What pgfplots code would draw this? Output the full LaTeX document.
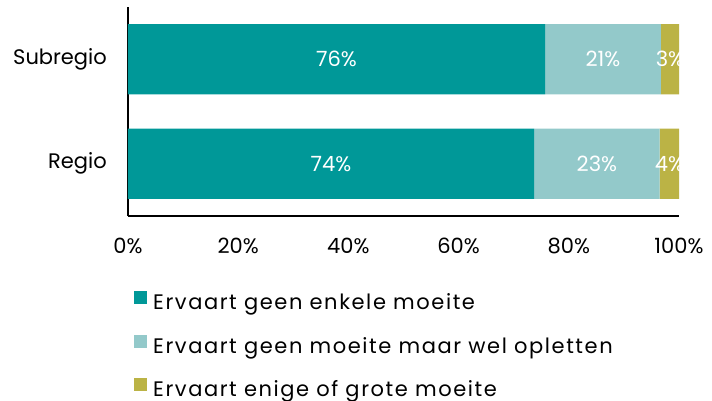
\documentclass[border=0pt]{standalone}
\usepackage{pgfplots}
\pgfplotsset{compat=1.18}
\usepackage{pgfplotstable}
\usepackage{fontspec}
\setmainfont{Poppins}
\newfontfamily\legfont[LetterSpace=7.5]{Poppins}
\definecolor{c1}{HTML}{009898}
\definecolor{c2}{HTML}{93C9CA}
\definecolor{c3}{HTML}{BBB345}
\newcommand\fs{\fontsize{21bp}{25bp}\selectfont}
\pgfplotstableread{
y  a     b     c
0  73.7  22.8  3.5
1  75.7  21.0  3.3
}\bars
\pgfplotstableread{
x      y  lab
36.85  0  74\%
85.1   0  23\%
98.25  0  4\%
37.85  1  76\%
86.2   1  21\%
98.35  1  3\%
}\labs
\begin{document}
\begin{tikzpicture}
\path[use as bounding box] (0,0) rectangle (712bp,401bp);
\begin{axis}[
  name=main,
  at={(128bp,185bp)}, anchor=south west,
  scale only axis, width=551bp, height=209bp,
  xbar stacked, bar width=70bp,
  xmin=0, xmax=100, ymin=-0.5, ymax=1.5,
  axis x line*=bottom, axis y line*=left,
  axis line style={line width=1.6bp, black},
  ytick={0,1}, yticklabels={Regio,Subregio},
  xtick={0,20,40,60,80,100},
  xticklabel={\pgfmathprintnumber{\tick}\%},
  /pgf/number format/assume math mode=true,
  major tick length=0pt,
  tick label style={font=\fs, inner sep=0pt},
  yticklabel style={xshift=-21bp},
  xticklabel style={yshift=-22bp},
  legend cell align=left,
  legend style={draw=none, fill=none, font=\fs\legfont, inner sep=0pt,
    at={(axis description cs:0.0109,-0.3589)}, anchor=north west,
    nodes={inner sep=0pt, text height=16bp, text depth=5bp},
    row sep=20bp, column sep=6bp},
]
\addplot[fill=c1, draw=none, legend image code/.code={\fill[c1] (0bp,0bp) rectangle (13bp,13bp);}] table[x=a, y=y] {\bars};
\addlegendentry{Ervaart geen enkele moeite}
\addplot[fill=c2, draw=none, legend image code/.code={\fill[c2] (0bp,0bp) rectangle (13bp,13bp);}] table[x=b, y=y] {\bars};
\addlegendentry{Ervaart geen moeite maar wel opletten}
\addplot[fill=c3, draw=none, legend image code/.code={\fill[c3] (0bp,0bp) rectangle (13bp,13bp);}] table[x=c, y=y] {\bars};
\addlegendentry{Ervaart enige of grote moeite}
\end{axis}
\begin{axis}[
  at={(128bp,185bp)}, anchor=south west,
  scale only axis, width=551bp, height=209bp,
  xmin=0, xmax=100, ymin=-0.5, ymax=1.5,
  hide axis, clip=false,
]
\addplot[only marks, mark=none, nodes near coords, point meta=explicit symbolic,
  every node near coord/.append style={anchor=center, text=white, font=\fs, inner sep=0pt}]
  table[x=x, y=y, meta=lab] {\labs};
\end{axis}
\end{tikzpicture}
\end{document}
